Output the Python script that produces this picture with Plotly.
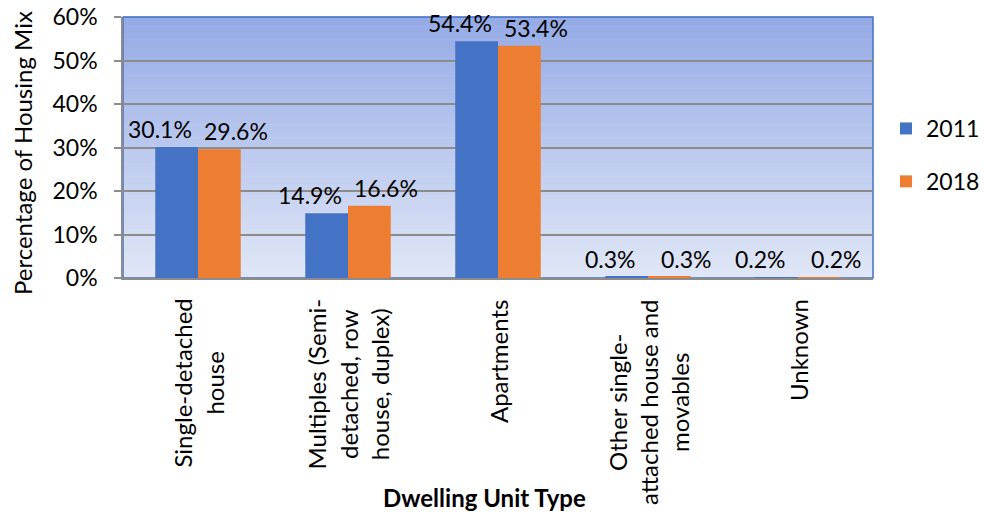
import plotly.graph_objects as go

# Housing mix by dwelling unit type, 2011 vs 2018
categories = [
    "Single-detached<br>house",
    "Multiples (Semi-<br>detached, row<br>house, duplex)",
    "Apartments",
    "Other single-<br>attached house and<br>movables",
    "Unknown",
]
share_2011 = [30.1, 14.9, 54.4, 0.3, 0.2]
share_2018 = [29.6, 16.6, 53.4, 0.3, 0.2]
y_ticks = [0, 10, 20, 30, 40, 50, 60]

FONT = "Lato"
FS = 23
BLUE = "#4472C4"
ORANGE = "#ED7D31"
GRID = "#8C8C8C"

keys = [f"c{i}" for i in range(len(categories))]

fig = go.Figure()
# label offset from the category centre (bars sit either side of it)
series = [("2011", share_2011, BLUE, -38), ("2018", share_2018, ORANGE, 38)]
annotations = []
for name, vals, col, dx in series:
    fig.add_trace(go.Bar(
        x=keys, y=vals, name=name, legendgroup=name,
        marker=dict(color=col, line=dict(width=0)),
        cliponaxis=False,
    ))
    for k, v in zip(keys, vals):
        annotations.append(dict(
            x=k, xref="x", y=v, yref="y", text=f"{v:.1f}%", showarrow=False,
            xanchor="center", yanchor="bottom", xshift=dx, yshift=2,
            font=dict(family=FONT, size=FS, color="#000000"),
        ))

# vertical gradient behind the plot area
top_rgb = (149, 171, 230)
bot_rgb = (224, 230, 246)
n_bands = 80
shapes = []
for i in range(n_bands):
    t = i / (n_bands - 1)
    r, g, b = [round(bot_rgb[k] + (top_rgb[k] - bot_rgb[k]) * t) for k in range(3)]
    shapes.append(dict(
        type="rect", xref="paper", yref="paper",
        x0=0, x1=1, y0=i / n_bands, y1=(i + 1) / n_bands + 0.002,
        fillcolor=f"rgb({r},{g},{b})", line=dict(width=0), layer="below",
    ))
# plot area border
shapes.append(dict(type="rect", xref="paper", yref="paper", x0=0, x1=1, y0=0, y1=1,
                   line=dict(color=BLUE, width=1.5), layer="below"))

# category labels, rotated with centred lines
for k, label in zip(keys, categories):
    annotations.append(dict(
        x=k, xref="x", y=-0.073, yref="paper", text=label, showarrow=False,
        textangle=-90, xanchor="center", yanchor="top", align="center",
        font=dict(family=FONT, size=24, color="#000000"),
    ))
annotations.append(dict(
    x=(484 - 123) / 750, xref="paper", y=(278 - 497) / 261, yref="paper",
    text="<b>Dwelling Unit Type</b>", showarrow=False, xanchor="center", yanchor="middle",
    font=dict(family=FONT, size=24, color="#000000"),
))
annotations.append(dict(
    x=(22 - 123) / 750, xref="paper", y=(278 - 153) / 261, yref="paper",
    text="Percentage of Housing Mix", showarrow=False, textangle=-90,
    xanchor="center", yanchor="middle",
    font=dict(family=FONT, size=24, color="#000000"),
))

fig.update_layout(
    width=986, height=512,
    margin=dict(l=123, r=113, t=17, b=234, autoexpand=False),
    paper_bgcolor="white", plot_bgcolor="rgba(0,0,0,0)",
    barmode="group", bargap=0.43, bargroupgap=0,
    font=dict(family=FONT, size=FS, color="#000000"),
    shapes=shapes, annotations=annotations,
    showlegend=True,
    legend=dict(x=(886 - 123) / 750, y=(278 - 155) / 261, xanchor="left", yanchor="middle",
                traceorder="grouped", tracegroupgap=20,
                font=dict(family=FONT, size=FS), bgcolor="rgba(0,0,0,0)"),
    xaxis=dict(showticklabels=False, showgrid=False, showline=True,
               linecolor=GRID, linewidth=1.5, ticks="", zeroline=False),
    yaxis=dict(range=[0, 60], tickvals=y_ticks, ticktext=[f"{v}%" for v in y_ticks],
               showgrid=True, gridcolor=GRID, gridwidth=1.5,
               showline=True, linecolor=GRID, linewidth=1.5,
               ticks="outside", ticklen=7, tickcolor=GRID, tickwidth=1.5,
               ticklabelstandoff=12, zeroline=False,
               tickfont=dict(family=FONT, size=FS)),
)

fig.write_html("out.html")
